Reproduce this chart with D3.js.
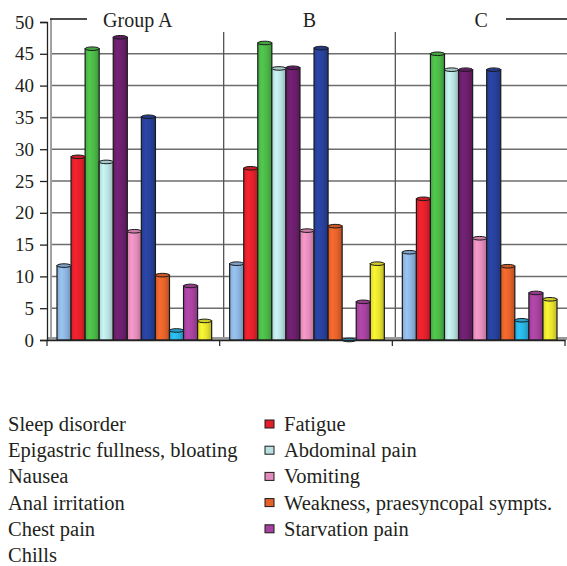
<!DOCTYPE html>
<html>
<head>
<meta charset="utf-8">
<script src="https://cdn.jsdelivr.net/npm/d3@7"></script>
<style>
  body { margin: 0; background: #fff; }
  #chart { width: 567px; height: 566px; }
</style>
</head>
<body>
<div id="chart"></div>
<script>
var groups = ["Group A", "B", "C"];
var series = ["Sleep disorder", "Fatigue", "Epigastric fullness, bloating", "Abdominal pain",
  "Nausea", "Vomiting", "Anal irritation", "Weakness, praesyncopal sympts.",
  "Chest pain", "Starvation pain", "Chills"];
var colors = ["#8cb3de", "#e2202b", "#4bb847", "#b9e1e1", "#6b1f6c", "#e38cbb",
  "#27409a", "#e4622a", "#29b3e3", "#a6429e", "#e6e22e"];
var valuesA = [11.7, 28.8, 45.8, 28.0, 47.6, 17.1, 35.1, 10.2, 1.5, 8.5, 3.0];
var valuesB = [12.0, 27.0, 46.7, 42.7, 42.8, 17.2, 45.9, 17.9, 0, 6.0, 12.0];
var valuesC = [13.8, 22.2, 45.0, 42.5, 42.5, 16.0, 42.5, 11.6, 3.1, 7.4, 6.4];
var yTicks = [0, 5, 10, 15, 20, 25, 30, 35, 40, 45, 50];

var FONT = "'Liberation Serif', 'Times New Roman', serif";
var TXT = "#231f20";

var data = groups.map(function(g, i) {
  var vals = [valuesA, valuesB, valuesC][i];
  return { group: g, values: series.map(function(s, j) { return { key: s, idx: j, value: vals[j] }; }) };
});

var container = d3.select("#chart");
var svg = container.append("svg").attr("width", 567).attr("height", 566);

// --- scales ---
var scY = d3.scaleLinear().domain([0, 50]).range([340, 22]);
var scX0 = d3.scaleBand().domain(groups).range([47, 565]);
var scX1 = d3.scaleBand().domain(series).range([10, scX0.bandwidth() - 8]);
var scBack = d3.scaleBand().domain(groups).range([52, 567]);

// --- gradients for cylinder shading ---
var defs = svg.append("defs");
colors.forEach(function(c, i) {
  var gr = defs.append("linearGradient").attr("id", "grad" + i)
    .attr("x1", "0%").attr("x2", "100%").attr("y1", "0%").attr("y2", "0%");
  var base = d3.color(c);
  gr.append("stop").attr("offset", "0%").attr("stop-color", base.darker(0.15));
  gr.append("stop").attr("offset", "30%").attr("stop-color", base.brighter(0.25));
  gr.append("stop").attr("offset", "65%").attr("stop-color", base);
  gr.append("stop").attr("offset", "100%").attr("stop-color", base.darker(0.6));
});

// --- back wall, grid ---
var grid = svg.append("g");
grid.selectAll("line.h")
  .data(yTicks.filter(function(t) { return t > 0 && t < 50; }))
  .enter().append("line")
  .attr("x1", 52).attr("x2", 567)
  .attr("y1", function(d) { return scY(d); }).attr("y2", function(d) { return scY(d); })
  .attr("stroke", "#6d6d6d").attr("stroke-width", 1.5);

grid.selectAll("line.v")
  .data(groups.slice(1))
  .enter().append("line")
  .attr("x1", function(d) { return scBack(d); }).attr("x2", function(d) { return scBack(d); })
  .attr("y1", 32).attr("y2", 340)
  .attr("stroke", "#555").attr("stroke-width", 1.3);

// left wall
grid.append("line").attr("x1", 51).attr("x2", 51).attr("y1", scY(50) - 3).attr("y2", 338)
  .attr("stroke", "#444").attr("stroke-width", 1);
// top line pieces
grid.append("line").attr("x1", 50).attr("x2", 87).attr("y1", scY(50) - 3).attr("y2", scY(50) - 3)
  .attr("stroke", "#111").attr("stroke-width", 1.5);
grid.append("line").attr("x1", 506).attr("x2", 567).attr("y1", scY(50) - 3).attr("y2", scY(50) - 3)
  .attr("stroke", "#111").attr("stroke-width", 1.5);
// floor
grid.append("rect").attr("x", 47).attr("y", 337).attr("width", 520).attr("height", 3)
  .attr("fill", "#9a9a9a");

// --- bars ---
var gGroups = svg.append("g").selectAll("g")
  .data(data).enter().append("g")
  .attr("transform", function(d) { return "translate(" + scX0(d.group) + ",0)"; });

var bw = scX1.bandwidth();
gGroups.selectAll("rect")
  .data(function(d) { return d.values.filter(function(v) { return v.value > 0; }); })
  .enter().append("rect")
  .attr("x", function(d) { return scX1(d.key); })
  .attr("y", function(d) { return scY(d.value); })
  .attr("width", bw)
  .attr("height", function(d) { return scY(0) - scY(d.value); })
  .attr("fill", function(d) { return "url(#grad" + d.idx + ")"; })
  .attr("stroke", "#1a1a1a").attr("stroke-width", 1.2);

gGroups.selectAll("ellipse")
  .data(function(d) { return d.values; })
  .enter().append("ellipse")
  .attr("cx", function(d) { return scX1(d.key) + bw / 2; })
  .attr("cy", function(d) { return scY(d.value); })
  .attr("rx", bw / 2).attr("ry", 1.8)
  .attr("fill", function(d) { return d3.color(colors[d.idx]).darker(0.3); })
  .attr("stroke", "#1a1a1a").attr("stroke-width", 1);

// --- axes ---
var axY = svg.append("g").attr("transform", "translate(47,0)")
  .call(d3.axisLeft(scY).tickValues(yTicks).tickSize(7).tickPadding(6));
axY.select(".domain").attr("stroke", "#222").attr("stroke-width", 1.3);
axY.selectAll(".tick line").attr("stroke", "#222").attr("stroke-width", 1.3);
axY.selectAll("text").style("font-size", "19px").style("font-family", FONT).attr("fill", TXT);

var axX = svg.append("g").attr("transform", "translate(0,340)")
  .call(d3.axisBottom(scX0).tickValues([]).tickSizeOuter(0));
axX.select(".domain").attr("stroke", "#222").attr("stroke-width", 1.3);
axX.selectAll("line.sep")
  .data([47].concat(groups.map(function(g) { return scX0(g) + scX0.bandwidth(); })))
  .enter().append("line")
  .attr("x1", function(d) { return d; }).attr("x2", function(d) { return d; })
  .attr("y1", 0).attr("y2", 6)
  .attr("stroke", "#222").attr("stroke-width", 1.2);

// group labels on top
svg.append("g").selectAll("text")
  .data(groups).enter().append("text")
  .attr("x", function(d) { return scBack(d) + scBack.bandwidth() / 2; })
  .attr("y", 27)
  .attr("text-anchor", "middle")
  .style("font-size", "20px").style("font-family", FONT).attr("fill", TXT)
  .text(function(d) { return d; });

// --- legend ---
var legend = svg.append("g").selectAll("g")
  .data(series).enter().append("g")
  .attr("transform", function(d, i) {
    var col = i % 2, row = Math.floor(i / 2);
    return "translate(" + (col === 0 ? -11 : 265) + "," + (431 + row * 26.2) + ")";
  });
legend.append("rect")
  .attr("x", 0).attr("y", -11).attr("width", 9).attr("height", 8)
  .attr("fill", function(d, i) { return colors[i]; })
  .attr("stroke", "#1a1a1a").attr("stroke-width", 1);
legend.append("text")
  .attr("x", 19).attr("y", 0)
  .style("font-size", "20.5px").style("font-family", FONT).attr("fill", TXT)
  .text(function(d) { return d; });
</script>
</body>
</html>
